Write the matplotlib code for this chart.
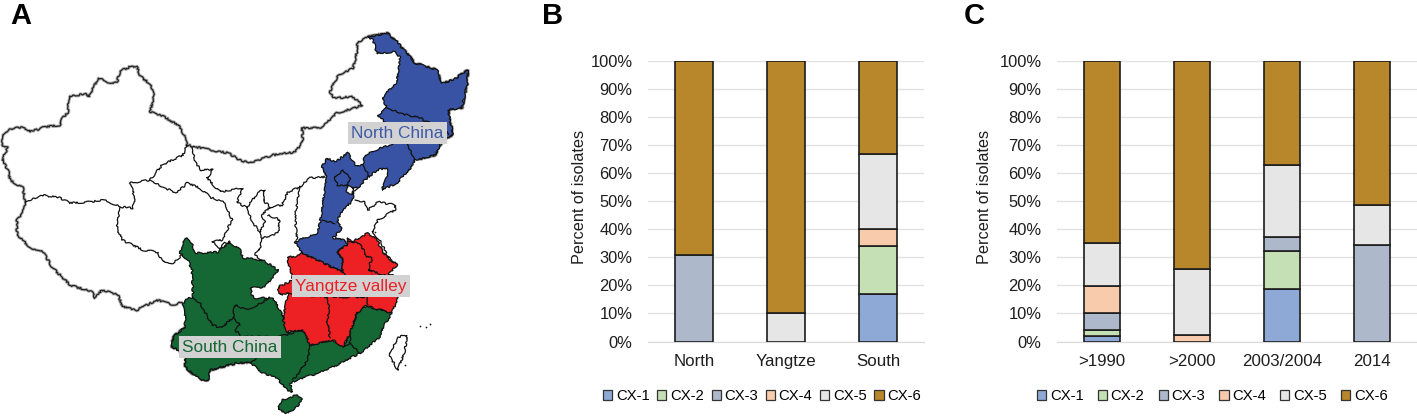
import matplotlib
matplotlib.use("Agg")
import matplotlib.pyplot as plt
from matplotlib.patches import Polygon, Patch

plt.rcParams['font.family'] = ['Liberation Sans', 'DejaVu Sans']

W, H = 1417, 416

# ---- bar data ----
series = ["CX-1", "CX-2", "CX-3", "CX-4", "CX-5", "CX-6"]
colors = ["#8EA9D6", "#C5E0B4", "#ADB9CA", "#F8CBAD", "#E7E6E6", "#B8862B"]
region_labels = ["North", "Yangtze", "South"]
region_cx1 = [0, 0, 17]
region_cx2 = [0, 0, 17]
region_cx3 = [31, 0, 0]
region_cx4 = [0, 0, 6]
region_cx5 = [0, 10, 27]
region_cx6 = [69, 90, 33]
period_labels = [">1990", ">2000", "2003/2004", "2014"]
period_cx1 = [2, 0, 18.6, 0]
period_cx2 = [2, 0, 13.8, 0]
period_cx3 = [6, 0, 5, 34.3]
period_cx4 = [9.7, 2.3, 0, 0]
period_cx5 = [15.5, 23.7, 25.5, 14.3]
period_cx6 = [64.8, 74, 37.1, 51.4]
ytick_values = [0, 10, 20, 30, 40, 50, 60, 70, 80, 90, 100]

# ---- map outlines (image units) ----
north_border = [(3,135),(8,130),(16,127),(25,128),(30,132),(45,127),(60,125),(63,117),(68,113),(69,96),(87,94),(89,97),
    (98,78),(113,84),(117,82),(120,71),(132,66),(137,67),(140,76),(150,84),(154,96),(150,112),(165,117),(180,127),(184,135),(187,145),
    (210,150),(228,153),(240,160),(250,163),(273,155),(295,152),(303,142),(302,128),(320,128),(337,113),(358,107),(362,105),
    (353,97),(333,98),(330,92),(338,75),(353,68),(358,48),(357,43),(368,37),(387,33),(397,42),(410,57),(415,63),(437,70),
    (442,83),(453,80),(468,70),(467,85),(462,108),(448,110),(453,135),(443,140),(435,155),(415,160)]
west_border = [(3,135),(2,145),(8,147),(2,160),(8,170),(10,180),(23,188),(25,202),(23,213),(17,220),(17,235),(33,250),(42,250),
    (52,267),(70,285),(92,292),(95,298),(102,290),(118,295),(123,307),(137,310),(157,300),(173,305),(182,302)]
south_halo = [(185,327),(173,337),(172,347),(178,350),(185,357),(185,367),(192,373),(203,380),(208,380),(210,370),(237,363),(250,363)]
tibet_north = [(25,202),(42,195),(60,198),(70,203),(90,202),(103,200),(122,207),(133,208),(135,198),(130,183),(150,180),(162,165),(183,155),(187,145)]
qinghai_tibet = [(120,207),(117,228),(122,240),(143,250),(157,252),(163,262),(173,263),(182,255)]
qinghai_gansu = [(150,180),(165,188),(177,193),(187,183),(200,188),(210,197),(225,203),(232,220),(222,240),(212,242),(220,248),(225,243),(230,242)]
gansu_inner = [(192,147),(195,160),(200,170),(213,170),(207,178),(220,192),(243,188),(237,202),(247,208),(258,192),(265,190),(263,200),
    (270,207),(282,205),(288,192),(300,187),(310,178),(325,177)]
ningxia = [(247,208),(253,223),(260,232),(265,223),(262,215),(270,207)]
shaanxi = [(260,232),(262,238),(278,233),(280,220),(268,215)]
shaanxi_south = [(262,238),(260,250),(255,253),(257,258),(263,260)]
shanxi = [(300,187),(295,217),(297,240)]
shandong = [(355,200),(365,202),(368,210),(378,202),(395,205),(395,210),(378,220),(372,232),(380,240),(388,257),(397,265)]
liaoning_coast = [(358,188),(353,193)]
heilong_jilin = [(387,108),(407,115),(420,118),(427,122),(443,127),(448,135)]
jilin_liaoning = [(407,143),(415,160)]
hebei_liaoning = [(363,165),(370,177)]
beijing_ring = [(335,177),(343,170),(350,177),(348,185),(337,185),(335,177)]
hebei_henan = [(322,220),(335,223)]
hunan_jiangxi = [(327,297),(330,310),(327,320),(330,338)]
hubei_south = [(287,293),(310,296),(327,297),(350,297),(367,297)]
jiangxi_zhejiang = [(367,297),(368,305)]
anhui_west = [(343,272),(350,280),(352,290),(350,297)]
jiangsu_anhui = [(347,241),(360,243),(367,257),(372,258),(368,270),(385,275)]
anhui_zhejiang = [(372,275),(367,297)]
sichuan_yunnan = [(193,298),(200,303),(212,325),(222,328),(233,317),(235,305),(247,310),(253,307),(270,298)]
guizhou_south = [(233,317),(240,325),(235,330),(242,337),(278,337),(303,330)]
yunnan_guangxi = [(250,363),(260,355),(278,337)]
guangxi_guangdong = [(310,345),(308,360),(293,380)]
guangdong_fujian = [(350,343),(360,353)]
fujian_west = [(343,347),(350,343),(350,333)]
north_china = [(368,37),(387,33),(397,42),(410,57),(415,63),(437,70),(442,83),(453,80),(468,70),(467,85),(462,108),(448,110),(453,135),
    (443,140),(435,155),(415,160),(413,165),(397,183),(382,190),(387,177),(387,168),(377,170),(365,180),(358,188),(353,187),(353,200),
    (342,211),(337,222),(342,228),(333,238),(345,240),(347,245),(337,252),(342,258),(343,272),(323,263),(302,253),(295,242),(317,233),
    (320,222),(322,210),(323,202),(327,177),(322,167),(327,158),(335,162),(348,153),(355,165),(363,165),(365,155),(380,148),(395,143),
    (385,122),(378,115),(387,108),(382,98),(397,82),(400,57),(395,52),(377,53),(373,40)]
tianjin = [(347,185),(353,187),(353,195),(347,193)]
yangtze = [(347,238),(353,241),(368,233),(377,240),(383,253),(397,265),(388,275),(405,277),(398,297),(392,313),(370,307),(367,305),
    (357,313),(350,333),(343,347),(333,340),(310,345),(303,330),(287,332),(283,320),(288,293),(280,295),(278,287),(293,280),(287,257),
    (295,257),(302,253),(323,263),(343,272),(342,258),(337,252),(347,245)]
south_china = [(187,238),(192,243),(195,253),(207,253),(218,252),(230,242),(240,250),(243,258),(263,260),(278,270),(265,287),(250,288),
    (253,298),(273,298),(285,320),(287,332),(303,330),(310,345),(333,340),(343,347),(350,333),(357,313),(367,305),(370,307),(392,313),
    (383,327),(380,337),(360,353),(327,370),(297,380),(290,383),(293,392),(287,390),(277,378),(263,373),(250,363),(237,363),(210,370),
    (208,380),(203,380),(192,373),(185,367),(185,357),(178,350),(172,347),(173,337),(185,327),(185,313),(182,305),(188,297),(193,298),
    (192,270),(188,260),(180,253),(183,242)]
hainan = [(278,407),(282,400),(297,395),(302,398),(297,407),(287,413),(278,410)]
taiwan = [(390,353),(398,337),(407,335),(405,350),(398,370),(390,357)]
islet_x = [393, 400, 405, 420, 430, 426, 388, 387, 405, 375, 372]
islet_y = [352, 357, 343, 326, 324, 327, 315, 320, 365, 232, 231]

fig = plt.figure(figsize=(W / 100, H / 100), dpi=100)


def px_axes(left, top, right, bottom):
    return fig.add_axes([left / W, 1 - bottom / H, (right - left) / W, (bottom - top) / H])


# ---- Panel A ----
m = fig.add_axes([0, 0, 480 / W, 1])
m.set_xlim(0, 480)
m.set_ylim(H, 0)
m.axis("off")
WIGGLE = (0.9, 7, 20)


def line(pts, lw=1.0, c="#111111", z=3):
    art, = m.plot([p[0] for p in pts], [p[1] for p in pts], color=c, lw=lw, zorder=z,
                  solid_joinstyle="round", solid_capstyle="round")
    art.set_sketch_params(*WIGGLE)


for halo in (north_border, west_border, south_halo):
    line(halo, lw=2.2, c="#B4B4B4", z=1)
    line(halo, lw=0.9, c="#222222", z=2)
for poly, col in ((north_china, "#3853A4"), (south_china, "#156734"), (yangtze, "#ED2024"),
                  (hainan, "#156734"), (tianjin, "white"), (taiwan, "white")):
    patch = Polygon(poly, closed=True, facecolor=col, edgecolor="#111111", lw=0.9, zorder=3)
    patch.set_sketch_params(*WIGGLE)
    m.add_patch(patch)
for seg in (tibet_north, qinghai_tibet, qinghai_gansu, gansu_inner, ningxia, shaanxi, shaanxi_south, shanxi, shandong,
            liaoning_coast):
    line(seg, lw=0.9, z=2)
for seg in (heilong_jilin, jilin_liaoning, hebei_liaoning, beijing_ring, hebei_henan, hunan_jiangxi, hubei_south,
            jiangxi_zhejiang, anhui_west, jiangsu_anhui, anhui_zhejiang, sichuan_yunnan, guizhou_south,
            yunnan_guangxi, guangxi_guangdong, guangdong_fujian, fujian_west):
    line(seg, lw=0.9, z=4)
m.scatter(islet_x, islet_y, s=1.5, color="#111111", zorder=2, linewidths=0)

for label, x, y, col in (("North China", 397.5, 133, "#3F5AA8"),
                         ("Yangtze valley", 351, 286, "#ED2024"),
                         ("South China", 230, 347, "#156734")):
    m.text(x, y, label, color=col, fontsize=12.4, ha="center", va="center", zorder=6,
           bbox=dict(facecolor="#D2D2D2", edgecolor="none", pad=2.2))


# ---- Panels B and C ----
def stacked(ax, labels, stacks, colspace, legend_left, label_x):
    ax.set_xlim(-0.5, len(labels) - 0.5)
    ax.set_ylim(0, 100)
    positions = list(range(len(labels)))
    bottom = [0] * len(labels)
    for name, color, vals in zip(series, colors, stacks):
        ax.bar([p for p, v in zip(positions, vals) if v > 0],
               [v for v in vals if v > 0],
               bottom=[b for b, v in zip(bottom, vals) if v > 0],
               width=0.405, color=color, edgecolor="#1C1C1C", linewidth=1.2, zorder=3)
        bottom = [b + v for b, v in zip(bottom, vals)]
    ax.set_xticks(positions)
    ax.set_xticklabels(labels, fontsize=12.2, color="#1E1E1E")
    ax.set_yticks(ytick_values)
    ax.set_yticklabels([f"{v}%" for v in ytick_values], fontsize=11.9, color="#1E1E1E")
    ax.tick_params(axis="both", length=0)
    ax.tick_params(axis="x", pad=9)
    ax.tick_params(axis="y", pad=11)
    ax.grid(axis="y", color="#E2E2E2", lw=1.0, zorder=0)
    ax.set_axisbelow(True)
    for s in ("top", "right", "left"):
        ax.spines[s].set_visible(False)
    ax.spines["bottom"].set_color("#D9D9D9")
    ax.set_ylabel("Percent of isolates", fontsize=11.7, color="#1E1E1E")
    ax.yaxis.set_label_coords(label_x / W, 0.514, transform=matplotlib.transforms.blended_transform_factory(
        fig.transFigure, ax.transAxes))
    handles = [Patch(facecolor=c, edgecolor="#333333", lw=0.9, label=n) for n, c in zip(series, colors)]
    ax.legend(handles=handles, ncol=6, frameon=False, loc="center left",
              bbox_to_anchor=(legend_left / W, 1 - 396 / H), bbox_transform=fig.transFigure,
              fontsize=10.7, handlelength=0.62, handleheight=0.62, handletextpad=0.25,
              columnspacing=colspace, borderpad=0, borderaxespad=0)


b = px_axes(648, 61, 924, 341.5)
stacked(b, region_labels, [region_cx1, region_cx2, region_cx3, region_cx4, region_cx5, region_cx6], 0.51, 603, 587)
c = px_axes(1057, 61, 1417, 341.5)
stacked(c, period_labels, [period_cx1, period_cx2, period_cx3, period_cx4, period_cx5, period_cx6], 0.95, 1037, 992)

for letter, x in (("A", 10), ("B", 542), ("C", 964)):
    fig.text(x / W, 1 - 24 / H, letter, fontsize=21, fontweight="bold", color="black", ha="left", va="baseline")

fig.savefig("out.png", dpi=100)
